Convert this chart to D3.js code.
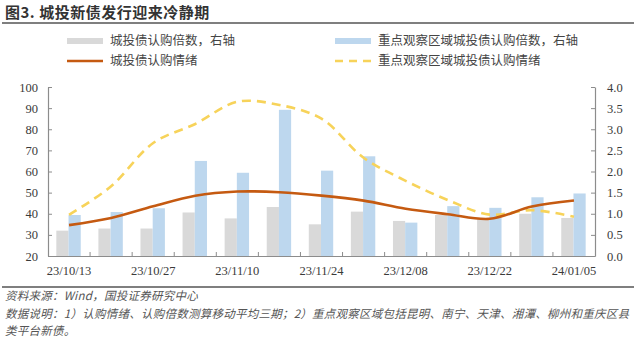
<!DOCTYPE html>
<html>
<head>
<meta charset="utf-8">
<script src="https://cdn.jsdelivr.net/npm/d3@7"></script>
<style>
  html, body { margin: 0; padding: 0; background: #fff; }
  svg { display: block; }
</style>
</head>
<body>
<script>
// Weekly periods (moving average of three periods)
const categories = ["23/10/13","23/10/20","23/10/27","23/11/03","23/11/10","23/11/17","23/11/24",
                    "23/12/01","23/12/08","23/12/15","23/12/22","23/12/29","24/01/05"];
const tickLabels = ["23/10/13","23/10/27","23/11/10","23/11/24","23/12/08","23/12/22","24/01/05"];

// Subscription multiples (right axis)
const allMultiple   = [0.60, 0.65, 0.65, 1.03, 0.89, 1.16, 0.75, 1.05, 0.83, 0.97, 0.90, 1.00, 0.90];
const focusMultiple = [0.97, 1.04, 1.13, 2.25, 1.97, 3.46, 2.02, 2.36, 0.79, 1.18, 1.14, 1.39, 1.48];

// Subscription sentiment (left axis)
const allSentiment   = [34.6, 38.0, 43.5, 48.5, 50.5, 50.2, 48.6, 46.2, 42.4, 39.8, 37.6, 43.4, 46.3];
const focusSentiment = [39.5, 53.0, 73.5, 82.5, 93.0, 91.5, 85.0, 66.5, 55.6, 46.5, 39.6, 41.7, 38.6];

const leftTicks  = [20, 30, 40, 50, 60, 70, 80, 90, 100];
const rightTicks = [0, 0.5, 1.0, 1.5, 2.0, 2.5, 3.0, 3.5, 4.0];

const W = 640, H = 339;
const plot = { left: 48, right: 595, top: 87, bottom: 256 };

const svg = d3.select("body").append("svg").attr("width", W).attr("height", H);

const cjk = "'Noto Sans CJK SC', 'Noto Sans', sans-serif";
const serif = "'Liberation Serif', 'DejaVu Serif', serif";
const axisColor = "#8c8c8c";
const textColor = "#3a3a3a";

// Title and rule
svg.append("text")
  .attr("x", 5).attr("y", 18)
  .attr("font-family", cjk).attr("font-size", 15).attr("font-weight", 700)
  .attr("letter-spacing", 0.5)
  .attr("fill", "#333")
  .text("图3. 城投新债发行迎来冷静期");
svg.append("line").attr("x1", 2).attr("x2", 634).attr("y1", 23).attr("y2", 23)
  .attr("stroke", "#555").attr("stroke-width", 1.5);

// Scales
const x = d3.scaleBand().domain(categories).range([plot.left, plot.right]).padding(0);
const yL = d3.scaleLinear().domain([20, 100]).range([plot.bottom, plot.top]);
const yR = d3.scaleLinear().domain([0, 4]).range([plot.bottom, plot.top]);
const barW = x.bandwidth() * 0.29;

// Bars
const g = svg.append("g");
g.selectAll("rect.all").data(categories).join("rect")
  .attr("class", "all")
  .attr("x", d => x(d) + x.bandwidth() / 2 - barW - 0.5)
  .attr("width", barW)
  .attr("y", (d, i) => yR(allMultiple[i]))
  .attr("height", (d, i) => yR(0) - yR(allMultiple[i]))
  .attr("fill", "#d9d9d9");
g.selectAll("rect.focus").data(categories).join("rect")
  .attr("class", "focus")
  .attr("x", d => x(d) + x.bandwidth() / 2 - 0.5)
  .attr("width", barW)
  .attr("y", (d, i) => yR(focusMultiple[i]))
  .attr("height", (d, i) => yR(0) - yR(focusMultiple[i]))
  .attr("fill", "#bdd7ee");

// Axes
const xAxis = d3.axisBottom(x).tickSize(0).tickFormat("");
const gx = svg.append("g").attr("transform", `translate(0,${plot.bottom})`).call(xAxis);
gx.select(".domain").attr("stroke", axisColor).attr("stroke-width", 1.2);
// Tick marks on band boundaries, pointing into the plot
svg.append("g").selectAll("line").data(categories.slice(1)).join("line")
  .attr("x1", d => x(d)).attr("x2", d => x(d))
  .attr("y1", plot.bottom).attr("y2", plot.bottom - 4)
  .attr("stroke", axisColor).attr("stroke-width", 1);
svg.append("g").selectAll("text").data(tickLabels).join("text")
  .attr("x", d => x(d) + x.bandwidth() / 2)
  .attr("y", plot.bottom + 19)
  .attr("text-anchor", "middle")
  .attr("font-family", serif).attr("font-size", 12.5).attr("fill", textColor)
  .text(d => d);

const gl = svg.append("g").attr("transform", `translate(${plot.left},0)`)
  .call(d3.axisLeft(yL).tickValues(leftTicks).tickSizeInner(-4).tickSizeOuter(0).tickPadding(10));
const gr = svg.append("g").attr("transform", `translate(${plot.right},0)`)
  .call(d3.axisRight(yR).tickValues(rightTicks).tickSizeInner(-4).tickSizeOuter(0).tickPadding(12)
    .tickFormat(d3.format(".1f")));
[gl, gr].forEach(a => {
  a.select(".domain").attr("stroke", axisColor).attr("stroke-width", 1.2);
  a.selectAll(".tick line").attr("stroke", axisColor);
  a.selectAll(".tick text").attr("font-family", serif).attr("font-size", 12.5).attr("fill", textColor);
});

// Lines
const line = d3.line()
  .x((d, i) => x(categories[i]) + x.bandwidth() / 2)
  .y(d => yL(d))
  .curve(d3.curveCatmullRom.alpha(0.5));
svg.append("path").datum(focusSentiment).attr("d", line)
  .attr("fill", "none").attr("stroke", "#f7d35a").attr("stroke-width", 2.6)
  .attr("stroke-dasharray", "9,6");
svg.append("path").datum(allSentiment).attr("d", line)
  .attr("fill", "none").attr("stroke", "#c55a11").attr("stroke-width", 2.6);

// Legend
const legend = [
  { x: 67, y: 41, type: "rect", color: "#d9d9d9", label: "城投债认购倍数，右轴" },
  { x: 335, y: 41, type: "rect", color: "#bdd7ee", label: "重点观察区域城投债认购倍数，右轴" },
  { x: 67, y: 61, type: "line", color: "#c55a11", label: "城投债认购情绪" },
  { x: 335, y: 61, type: "dash", color: "#f7d35a", label: "重点观察区域城投债认购情绪" }
];
const lg = svg.append("g").selectAll("g").data(legend).join("g")
  .attr("transform", d => `translate(${d.x},${d.y})`);
lg.filter(d => d.type === "rect").append("rect")
  .attr("x", 0).attr("y", -3).attr("width", 36).attr("height", 6).attr("fill", d => d.color);
lg.filter(d => d.type !== "rect").append("line")
  .attr("x1", 0).attr("x2", 36).attr("y1", 0).attr("y2", 0)
  .attr("stroke", d => d.color).attr("stroke-width", 2.6)
  .attr("stroke-dasharray", d => d.type === "dash" ? "8,6" : null);
lg.append("text").attr("x", 43).attr("y", 0).attr("dy", "0.35em")
  .attr("font-family", cjk).attr("font-size", 12.5).attr("fill", "#454545")
  .text(d => d.label);

// Footer
svg.append("line").attr("x1", 2).attr("x2", 634).attr("y1", 287).attr("y2", 287)
  .attr("stroke", "#555").attr("stroke-width", 1.5);
const notes = [
  "资料来源：Wind，国投证券研究中心",
  "数据说明：1）认购情绪、认购倍数测算移动平均三期；2）重点观察区域包括昆明、南宁、天津、湘潭、柳州和重庆区县",
  "类平台新债。"
];
svg.append("g").selectAll("text").data(notes).join("text")
  .attr("x", 5).attr("y", (d, i) => 300 + i * 17.5)
  .attr("font-family", cjk).attr("font-size", 11.5).attr("font-style", "italic")
  .attr("letter-spacing", 0.25)
  .attr("fill", "#555")
  .text(d => d);
</script>
</body>
</html>
